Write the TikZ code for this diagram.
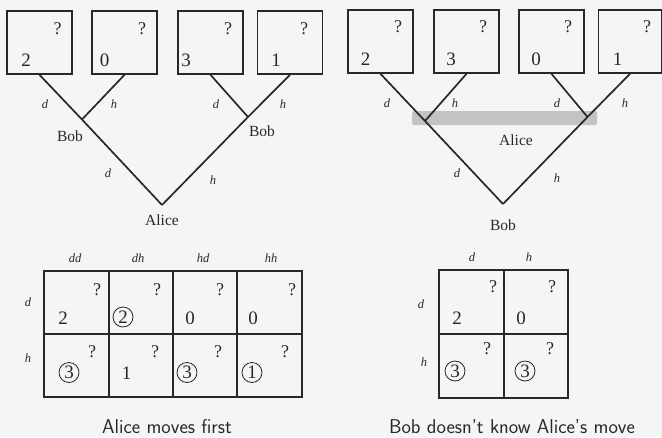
\documentclass[tikz,border=0pt]{standalone}
\usepackage{fontspec}
\setmainfont{Liberation Serif}
\definecolor{ink}{RGB}{40,40,40}
\definecolor{paper}{RGB}{245,245,245}
\definecolor{barc}{RGB}{195,195,195}
\begin{document}
\begin{tikzpicture}
	[x=1pt,y=-1pt,
	box/.style={draw=ink,line width=1.6pt,minimum width=65pt,minimum height=63pt,inner sep=0pt},
	cell/.style={draw=ink,line width=1.6pt,minimum width=64.5pt,minimum height=63pt,inner sep=0pt},
	val/.style={text=ink,font=\fontsize{19}{19}\selectfont,inner sep=0pt},
	ask/.style={text=ink,font=\fontsize{18}{18}\selectfont,inner sep=0pt},
	circ/.style={val,circle,draw=ink,line width=0.8pt,minimum size=20pt},
	who/.style={text=ink,font=\fontsize{15.5}{16}\selectfont,inner sep=0pt},
	mv/.style={text=ink,font=\fontsize{12.5}{13}\selectfont\itshape,inner sep=0pt},
	caption/.style={text=ink,font=\fontsize{20}{21}\selectfont\sffamily,inner sep=0pt,anchor=base},
	edge/.style={draw=ink,line width=1.7pt}]
	\fill[paper](0,0)rectangle(662,437);
	\useasboundingbox(0,0)rectangle(662,437);
	% Alice moves first
	\node[box,name=b1] at (39.5,42.5) {};
	\node[box,name=b2] at (124.5,42.5) {};
	\node[box,name=b3] at (210.5,42.5) {};
	\node[box,name=b4] at (290,42.5) {};
	\node[ask,name=q1] at (57.5,29) {?};
	\node[ask,name=q2] at (142,29) {?};
	\node[ask,name=q3] at (228,29) {?};
	\node[ask,name=q4] at (304,29) {?};
	\node[val,name=v1] at (26,60) {2};
	\node[val,name=v2] at (104.5,60) {0};
	\node[val,name=v3] at (186,60) {3};
	\node[val,name=v4] at (276,60) {1};
	\coordinate (bobL) at (82,119.5);
	\coordinate (bobR) at (248,117);
	\coordinate (alice) at (162,205);
	\draw[edge](b1.south)--(bobL)--(alice);
	\draw[edge](b2.south)--(bobL);
	\draw[edge](b4.south)--(bobR)--(alice);
	\draw[edge](b3.south)--(bobR);
	\node[who,name=bobLl] at (70,136) {Bob};
	\node[who,name=bobRl] at (262,131) {Bob};
	\node[who,name=alicel] at (162,220) {Alice};
	\node[mv,name=e1] at (45,104) {d};
	\node[mv,name=e2] at (114,104) {h};
	\node[mv,name=e3] at (216,104) {d};
	\node[mv,name=e4] at (283,104) {h};
	\node[mv,name=e5] at (108,173) {d};
	\node[mv,name=e6] at (213,180) {h};
	% Bob doesn't know
	\fill[barc,rounded corners=2pt](412,111)rectangle(597,125);
	\node[box,name=c1] at (380.5,41.5) {};
	\node[box,name=c2] at (466.5,41.5) {};
	\node[box,name=c3] at (551.5,41.5) {};
	\node[box,name=c4,minimum width=63pt] at (630,41.5) {};
	\node[ask,name=r1] at (398,27) {?};
	\node[ask,name=r2] at (483,27) {?};
	\node[ask,name=r3] at (568,27) {?};
	\node[ask,name=r4] at (647,27) {?};
	\node[val,name=w1] at (365.5,59) {2};
	\node[val,name=w2] at (451,59) {3};
	\node[val,name=w3] at (536,59) {0};
	\node[val,name=w4] at (617.5,59) {1};
	\coordinate (aliceL) at (425,121);
	\coordinate (aliceR) at (587.5,117);
	\coordinate (bob) at (503,204);
	\draw[edge](c1.south)--(aliceL)--(bob);
	\draw[edge](c2.south)--(aliceL);
	\draw[edge](c4.south)--(aliceR)--(bob);
	\draw[edge](c3.south)--(aliceR);
	\node[who,name=alicer] at (516,140) {Alice};
	\node[who,name=bobr] at (503,225) {Bob};
	\node[mv,name=f1] at (387,103) {d};
	\node[mv,name=f2] at (455,103) {h};
	\node[mv,name=f3] at (557,103) {d};
	\node[mv,name=f4] at (625,103) {h};
	\node[mv,name=f5] at (457,173) {d};
	\node[mv,name=f6] at (557,178) {h};
	% left table
	\node[cell,name=m11] at (76.5,302.5) {};
	\node[cell,name=m12] at (141,302.5) {};
	\node[cell,name=m13] at (205,302.5) {};
	\node[cell,name=m14] at (269.5,302.5) {};
	\node[cell,name=m21] at (76.5,365.5) {};
	\node[cell,name=m22] at (141,365.5) {};
	\node[cell,name=m23] at (205,365.5) {};
	\node[cell,name=m24] at (269.5,365.5) {};
	\node[mv,name=t1] at (75,258) {dd};
	\node[mv,name=t2] at (138,258) {dh};
	\node[mv,name=t3] at (203,258) {hd};
	\node[mv,name=t4] at (271,258) {hh};
	\node[mv,name=s1] at (28,302) {d};
	\node[mv,name=s2] at (28,358) {h};
	\node[ask,name=mq11] at (97,290) {?};
	\node[ask,name=mq12] at (157,290) {?};
	\node[ask,name=mq13] at (220,290) {?};
	\node[ask,name=mq14] at (292,290) {?};
	\node[ask,name=mq21] at (92,352) {?};
	\node[ask,name=mq22] at (155,352) {?};
	\node[ask,name=mq23] at (218,352) {?};
	\node[ask,name=mq24] at (285,352) {?};
	\node[val,name=mv11] at (63,318) {2};
	\node[circ,name=mv12] at (123,317) {2};
	\node[val,name=mv13] at (190,318) {0};
	\node[val,name=mv14] at (253,318) {0};
	\node[circ,name=mv21] at (69,372.5) {3};
	\node[val,name=mv22] at (126.5,373.5) {1};
	\node[circ,name=mv23] at (187,372.5) {3};
	\node[circ,name=mv24] at (252,372.5) {1};
	\node[caption,name=cap1] at (167,433) {Alice moves first};
	% right table
	\node[cell,name=n11,minimum height=64pt] at (471.5,302) {};
	\node[cell,name=n12,minimum height=64pt] at (536,302) {};
	\node[cell,name=n21,minimum height=64pt] at (471.5,366) {};
	\node[cell,name=n22,minimum height=64pt] at (536,366) {};
	\node[mv,name=u1] at (472,257) {d};
	\node[mv,name=u2] at (529,257) {h};
	\node[mv,name=p1] at (421,304) {d};
	\node[mv,name=p2] at (424,362) {h};
	\node[ask,name=nq11] at (493,287) {?};
	\node[ask,name=nq12] at (552,287) {?};
	\node[ask,name=nq21] at (487,349) {?};
	\node[ask,name=nq22] at (550,349) {?};
	\node[val,name=nv11] at (457,318) {2};
	\node[val,name=nv12] at (521,318) {0};
	\node[circ,name=nv21] at (455,371) {3};
	\node[circ,name=nv22] at (525,371) {3};
	\node[caption,name=cap2] at (512,433) {Bob doesn't know Alice's move};
\end{tikzpicture}
\end{document}
